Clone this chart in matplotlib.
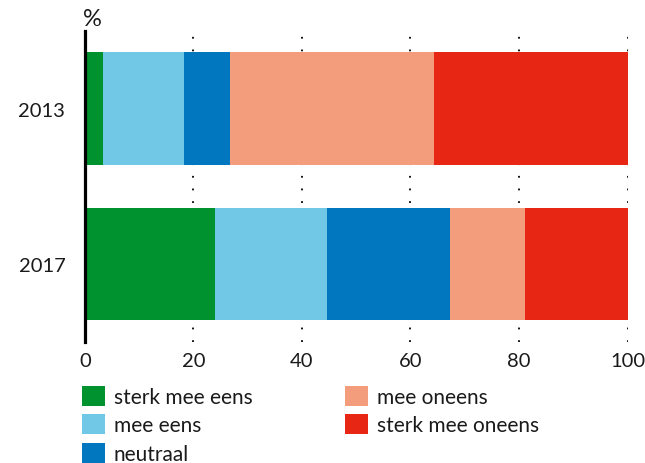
import matplotlib.pyplot as plt

plt.rcParams['font.family'] = ['Lato', 'DejaVu Sans']

years = ['2013', '2017']
categories = ['sterk mee eens', 'mee eens', 'neutraal', 'mee oneens', 'sterk mee oneens']
values = {
    'sterk mee eens':   [3.4, 24.0],
    'mee eens':         [14.9, 20.6],
    'neutraal':         [8.5, 22.7],
    'mee oneens':       [37.6, 13.8],
    'sterk mee oneens': [35.6, 18.9],
}
colors = ['#00922f', '#70c8e6', '#0077be', '#f49d7c', '#e72714']

fig = plt.figure(figsize=(6.45, 4.64), dpi=100)
ax = fig.add_axes([0.1315, 0.261, 0.8415, 0.670])

handles = []
left = [0.0, 0.0]
for cat, col in zip(categories, colors):
    vals = values[cat]
    b = ax.barh(range(len(years)), vals, left=left, height=0.724,
                color=col, label=cat, zorder=2, linewidth=0)
    handles.append(b)
    left = [l + v for l, v in zip(left, vals)]

ax.set_xlim(0, 100)
ax.set_ylim(1.5, -0.5)
ax.set_yticks(range(len(years)))
ax.set_yticklabels(years)
ax.set_xticks([0, 20, 40, 60, 80, 100])

# dotted vertical gridlines behind the bars
for x in [20, 40, 60, 80, 100]:
    ax.axvline(x, color='black', linewidth=1.3, linestyle=(0, (1, 6)), zorder=1)

for s in ['top', 'right', 'bottom']:
    ax.spines[s].set_visible(False)
ax.spines['left'].set_linewidth(2.3)
ax.tick_params(axis='both', length=0, labelsize=14.5, colors='#1a1a1a')
ax.tick_params(axis='y', pad=14)
ax.tick_params(axis='x', pad=7)

fig.text(0.129, 0.958, '%', fontsize=17, va='center', ha='left', color='#1a1a1a')

leg_kw = dict(loc='upper left', frameon=False, fontsize=15, borderpad=0,
              borderaxespad=0, handlelength=1.1, handleheight=1.1,
              handletextpad=0.43, labelspacing=0.35, labelcolor='#1a1a1a')
leg1 = fig.legend(handles[:3], categories[:3], bbox_to_anchor=(0.127, 0.166), **leg_kw)
leg2 = fig.legend(handles[3:], categories[3:], bbox_to_anchor=(0.535, 0.166), **leg_kw)

fig.savefig('out.png', dpi=100)
